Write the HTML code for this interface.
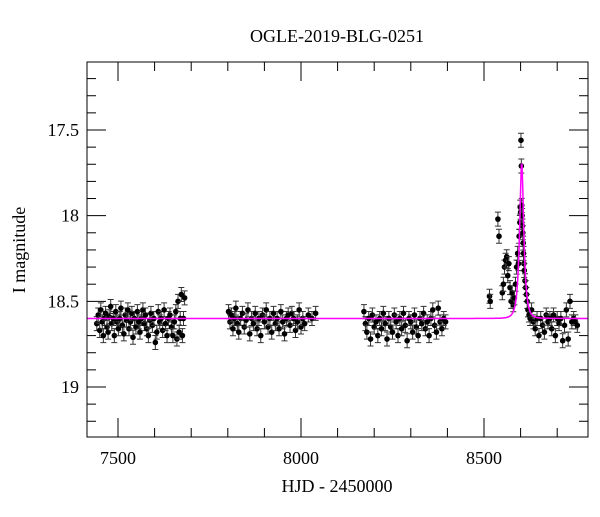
<!DOCTYPE html>
<html><head><meta charset="utf-8"><style>
body{margin:0;background:#fff}
svg text{font-family:"Liberation Serif",serif;fill:#000}
</style></head><body>
<svg id="c" width="600" height="512" xmlns="http://www.w3.org/2000/svg">
<text x="337" y="42" font-size="18" text-anchor="middle">OGLE-2019-BLG-0251</text>
<text x="337" y="492" font-size="18" text-anchor="middle">HJD - 2450000</text>
<text transform="translate(25,250) rotate(-90)" font-size="18" text-anchor="middle">I magnitude</text>
<g id="ax"></g><g id="pts"></g><g id="mdl"></g>
<rect x="87" y="62" width="501" height="375" fill="none" stroke="#000" stroke-width="1"/>
</svg>
<script>
const xTicks=[7500,8000,8500];
const yTicks=[17.5,18,18.5,19];
const yTickLabels=["17.5","18","18.5","19"];
const t=[7442,7446,7450,7453,7457,7460,7463,7466,7470,7473,7476,7480,7483,7487,7490,7494,7497,7501,7505,7508,7512,7516,7520,7523,7527,7530,7534,7538,7541,7545,7549,7553,7557,7560,7564,7568,7572,7575,7579,7583,7587,7590,7594,7598,7602,7606,7610,7614,7618,7622,7626,7630,7634,7638,7642,7646,7650,7654,7658,7661,7664,7667,7670,7673,7676,7679,7682,
7802,7806,7810,7814,7818,7822,7826,7830,7835,7840,7845,7850,7855,7860,7865,7870,7875,7880,7885,7890,7895,7900,7905,7910,7915,7920,7925,7930,7935,7940,7945,7950,7955,7960,7965,7970,7975,7980,7985,7990,7995,8000,8005,8010,8020,8030,8040,
8172,8176,8180,8185,8190,8195,8200,8205,8210,8215,8220,8225,8230,8235,8240,8245,8250,8255,8260,8265,8270,8275,8280,8285,8290,8295,8300,8305,8310,8315,8320,8325,8330,8335,8340,8345,8350,8355,8360,8365,8370,8375,8380,8385,8390,8395,
8515,8517,8538,8541,8550,8553,8556,8559,8562,8565,8568,8571,8574,8577,8580,8583,8586,8589,8592,8594,8596,8598,8599,8600,8601,8602,8603,8604,8605,8606,8607,8608,8609,8610,8612,8614,8616,8618,8620,8623,8626,8630,8635,8640,8645,8650,8655,8660,8665,8670,8675,8680,8685,8690,8695,8700,8705,8710,8715,8720,8725,8730,8735,8740,8745,8750,8755];
const mag=[18.63,18.58,18.67,18.55,18.62,18.7,18.6,18.57,18.65,18.68,18.59,18.53,18.63,18.6,18.7,18.56,18.62,18.66,18.6,18.54,18.64,18.69,18.58,18.61,18.55,18.66,18.62,18.57,18.71,18.6,18.65,18.56,18.62,18.68,18.6,18.55,18.63,18.58,18.66,18.7,18.61,18.57,18.64,18.6,18.74,18.68,18.56,18.62,18.6,18.67,18.55,18.63,18.7,18.6,18.58,18.65,18.7,18.62,18.56,18.72,18.5,18.68,18.6,18.46,18.7,18.6,18.48,
18.56,18.62,18.58,18.66,18.6,18.54,18.63,18.68,18.6,18.57,18.65,18.61,18.55,18.69,18.6,18.63,18.57,18.66,18.6,18.7,18.58,18.62,18.55,18.65,18.6,18.68,18.57,18.63,18.6,18.66,18.56,18.62,18.69,18.6,18.58,18.64,18.57,18.6,18.67,18.62,18.55,18.65,18.6,18.63,18.58,18.6,18.57,
18.56,18.63,18.68,18.6,18.72,18.58,18.65,18.62,18.7,18.6,18.66,18.57,18.63,18.72,18.6,18.65,18.68,18.58,18.62,18.7,18.6,18.66,18.57,18.64,18.73,18.6,18.62,18.68,18.58,18.65,18.7,18.6,18.63,18.57,18.66,18.62,18.7,18.6,18.55,18.64,18.68,18.54,18.62,18.66,18.6,18.62,
18.47,18.5,18.02,18.12,18.45,18.4,18.3,18.26,18.24,18.35,18.28,18.42,18.5,18.45,18.52,18.48,18.4,18.3,18.22,18.28,18.12,18.04,17.95,17.98,17.56,17.71,17.94,18.0,18.06,18.1,18.16,18.22,18.28,18.32,18.38,18.42,18.46,18.5,18.55,18.58,18.6,18.55,18.62,18.66,18.6,18.7,18.6,18.64,18.68,18.58,18.62,18.6,18.66,18.58,18.7,18.6,18.63,18.6,18.73,18.64,18.55,18.72,18.5,18.62,18.6,18.62,18.64];
const model=[8603,0.47,10,1.0];/* t0, u0, tE, source fraction */
const base=18.6;
const X=v=>118+(v-7500)*183/500, Y=m=>130+(m-17.5)*171.33;
const NS="http://www.w3.org/2000/svg";
function mk(tag,attrs,parent){const e=document.createElementNS(NS,tag);for(const k in attrs)e.setAttribute(k,attrs[k]);parent.appendChild(e);return e;}
const ax=document.getElementById('ax');
for(let v=7500;v<=8700;v+=100){const big=v%500===0;
 const a=mk('line',{x1:X(v),x2:X(v),y1:437,y2:437-(big?19:9),stroke:'#000'},ax);
 const b=mk('line',{x1:X(v),x2:X(v),y1:62,y2:62+(big?19:9),stroke:'#000'},ax);}
xTicks.forEach(v=>{const e=mk('text',{x:X(v),y:464,'font-size':18,'text-anchor':'middle'},ax);e.textContent=v;});
for(let i=12;i<=32;i++){const m=i/10+16;const big=i%5===0;const y=Y(m);if(y<62||y>437)continue;
 const a=mk('line',{x1:87,x2:87+(big?19:9),y1:y,y2:y,stroke:'#000'},ax);
 const b=mk('line',{x1:588,x2:588-(big?19:9),y1:y,y2:y,stroke:'#000'},ax);}
yTicks.forEach((m,i)=>{const e=mk('text',{x:79,y:Y(m)+6,'font-size':18,'text-anchor':'end'},ax);e.textContent=yTickLabels[i];});
const pts=document.getElementById('pts');
t.forEach((tv,i)=>{const g=mk('g',{},pts);
 const x=X(tv),y=Y(mag[i]),e=7;
 mk('path',{d:`M${x},${y-e}V${y+e}M${x-3},${y-e}H${x+3}M${x-3},${y+e}H${x+3}`,stroke:'#333','stroke-width':1,fill:'none'},g);
 mk('circle',{cx:x,cy:y,r:2.8,fill:'#000'},g);});
let d='';
for(let tv=7415;tv<=8784;tv+=0.5){const u0=model[1],tau=(tv-model[0])/model[2];const u=Math.sqrt(u0*u0+tau*tau);
 const A=(u*u+2)/(u*Math.sqrt(u*u+4));const fs=model[3];const m=base-2.5*Math.log10(fs*A+1-fs);
 d+=(d?'L':'M')+X(tv).toFixed(1)+','+Y(m).toFixed(1);}
const p=mk('path',{d:d,stroke:'#ff00ff','stroke-width':1.5,fill:'none'},document.getElementById('mdl'));

</script>
</body></html>
